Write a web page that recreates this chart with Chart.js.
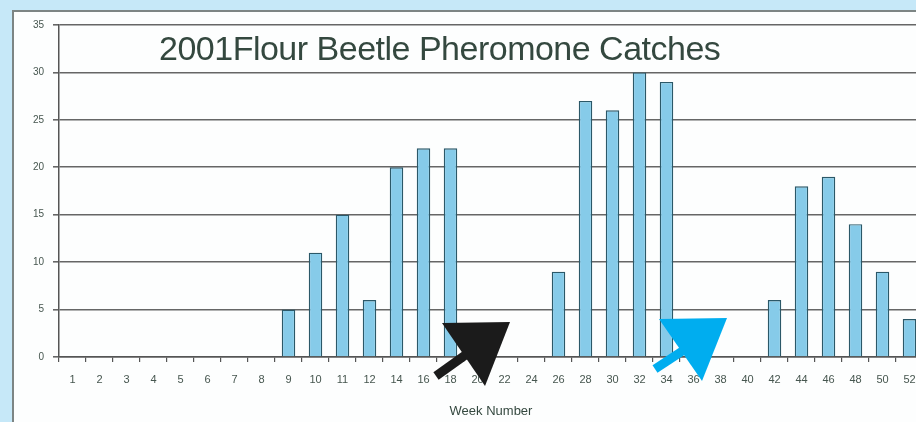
<!DOCTYPE html>
<html>
<head>
<meta charset="utf-8">
<script src="https://cdn.jsdelivr.net/npm/chart.js@4/dist/chart.umd.min.js"></script>
<style>
  html, body { margin: 0; padding: 0; width: 916px; height: 422px; overflow: hidden; background: #c6e8f8; }
  #panel { position: absolute; left: 12px; top: 10px; width: 920px; height: 430px; background: #fdfefe;
           border-left: 2px solid #7d8584; border-top: 2px solid #7d8584; }
  #wrap { position: absolute; left: 0; top: 0; width: 930px; height: 422px; }
  #titre { position: absolute; left: 159px; top: 29px; font-family: "Liberation Sans", Arial, sans-serif;
           font-size: 34px; line-height: 38px; color: #34483f; white-space: nowrap; letter-spacing: -0.5px; }
  svg { position: absolute; left: 0; top: 0; }
</style>
</head>
<body>
<div id="panel"></div>
<div id="wrap"><canvas id="graf" width="930" height="422"></canvas></div>
<div id="titre">2001Flour Beetle Pheromone Catches</div>
<svg width="916" height="422">
  <line x1="436" y1="376" x2="478" y2="346" stroke="#1b1b1b" stroke-width="9"/>
  <polygon points="442,323 510,322 485,386" fill="#1b1b1b"/>
  <line x1="655" y1="369" x2="690" y2="346" stroke="#00adef" stroke-width="9"/>
  <polygon points="659,319 727,318 702,381" fill="#00adef"/>
</svg>
<script>
// semanas y capturas
const semanas = ['1','2','3','4','5','6','7','8','9','10','11','12','14','16','18','20',
                 '22','24','26','28','30','32','34','36','38','40','42','44','46','48','50','52'];
const capturas = [0,0,0,0,0,0,0,0,5,11,15,6,20,22,22,0,
                  0,0,9,27,26,30,29,0,0,0,6,18,19,14,9,4];
const ticksY = [0, 5, 10, 15, 20, 25, 30, 35];

const ctx = document.getElementById('graf').getContext('2d');
new Chart(ctx, {
    type: 'bar',
    data: {
        labels: semanas,
        datasets: [{
            label: 'Catches',
            data: capturas,
            backgroundColor: '#86cbe9',
            borderColor: '#2b5868',
            borderWidth: 1.4,
            borderSkipped: 'start',
            categoryPercentage: 1,
            barPercentage: 0.5
        }]
    },
    options: {
        responsive: false,
        animation: false,
        layout: { padding: { left: 0, right: 7, top: 25, bottom: 0 } },
        plugins: {
            legend: { display: false },
            tooltip: { enabled: false }
        },
        scales: {
            x: {
                grid: { display: true, drawOnChartArea: false, drawTicks: true, tickLength: 5,
                        color: '#555', lineWidth: 1.2, offset: true },
                border: { color: '#555', width: 1.5 },
                ticks: { color: '#46564f', padding: 11, maxRotation: 0, autoSkip: false,
                         font: { family: '"Liberation Sans Narrow", "Liberation Sans", Arial', size: 11 } },
                title: { display: true, text: 'Week Number', color: '#34483f',
                         padding: { top: 12, bottom: 3 },
                         font: { family: '"Liberation Sans Narrow", "Liberation Sans", Arial', size: 13 } },
                afterFit: (s) => { s.height = 65; }
            },
            y: {
                min: 0,
                max: 35,
                afterBuildTicks: (s) => { s.ticks = ticksY.map(v => ({ value: v })); },
                grid: { color: '#666', lineWidth: 1.6, tickLength: 6 },
                border: { color: '#555', width: 1.5 },
                ticks: { color: '#46564f', padding: 9,
                         font: { family: '"Liberation Sans Narrow", "Liberation Sans", Arial', size: 10 } },
                afterFit: (s) => { s.width = 59; }
            }
        }
    }
});
</script>
</body>
</html>
